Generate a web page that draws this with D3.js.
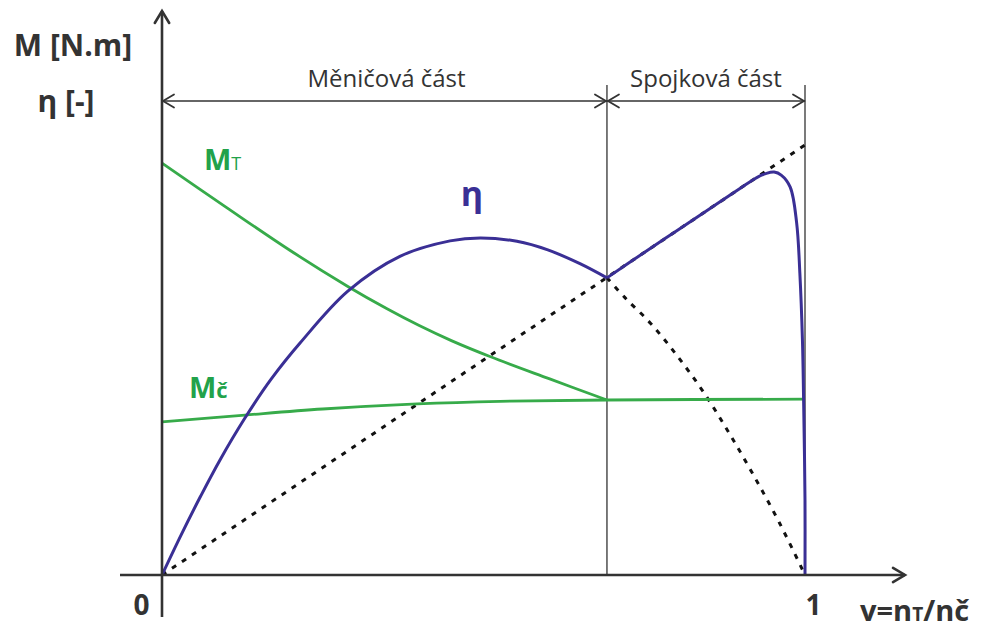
<!DOCTYPE html>
<html>
<head>
<meta charset="utf-8">
<script src="https://cdn.jsdelivr.net/npm/d3@7/dist/d3.min.js"></script>
<style>
  html, body { margin: 0; padding: 0; background: #fff; }
  svg { display: block; }
  text { font-family: "Open Sans", Lato, "DejaVu Sans", sans-serif; }
</style>
</head>
<body>
<svg id="chart" width="989" height="628"></svg>
<script>
// Relative speed v = nT/nč on x, torque / efficiency (normalised) on y
const xTicks = [0, 1];
const splitV = 0.692;           // boundary between converter and coupling range

// Efficiency η in the converter range (solid)
const etaConvSolidX = [0, 0.03, 0.06, 0.09, 0.129, 0.17, 0.215, 0.289, 0.37, 0.448, 0.495, 0.552, 0.60, 0.65, 0.692];
const etaConvSolidY = [0, 0.094, 0.183, 0.267, 0.365, 0.456, 0.540, 0.660, 0.741, 0.777, 0.784, 0.776, 0.756, 0.724, 0.691];

// Efficiency η in the coupling range (solid)
const etaCoupSolidX = [0.692, 0.75, 0.80, 0.85, 0.90, 0.925, 0.940, 0.952, 0.963, 0.977, 0.987, 0.992, 0.996, 0.998, 1.0, 1.0];
const etaCoupSolidY = [0.691, 0.75, 0.80, 0.85, 0.90, 0.924, 0.934, 0.937, 0.930, 0.902, 0.819, 0.702, 0.547, 0.391, 0.174, 0];

// Converter efficiency continued past the split point (dotted)
const etaConvX = [0.692, 0.72, 0.76, 0.80, 0.84, 0.88, 0.92, 0.96, 1.0];
const etaConvY = [0.691, 0.645, 0.585, 0.512, 0.430, 0.335, 0.232, 0.122, 0];

// Coupling efficiency η = v (dotted)
const etaCoupX = [0, 1];
const etaCoupY = [0, 1];

// Turbine torque MT
const mtX = [0, 0.1, 0.2, 0.289, 0.35, 0.4, 0.45, 0.51, 0.603, 0.692];
const mtY = [0.958, 0.855, 0.754, 0.671, 0.619, 0.580, 0.545, 0.508, 0.456, 0.407];

// Pump torque Mč
const mcX = [0, 0.129, 0.25, 0.397, 0.526, 0.692, 1.0];
const mcY = [0.356, 0.372, 0.386, 0.398, 0.404, 0.407, 0.409];

const sections = [
  { label: "Měničová část", from: 0, to: splitV },
  { label: "Spojková část", from: splitV, to: 1 }
];

const svg = d3.select("#chart");
const x = d3.scaleLinear().domain([0, 1]).range([162, 805]);
const y = d3.scaleLinear().domain([0, 1]).range([575, 145]);

const axisColor = "#333";
const green = "#37ab4a";
const greenText = "#22a24a";
const blue = "#3a2f95";

const zip = (xs, ys) => xs.map((v, i) => [v, ys[i]]);
const line = d3.line().x(d => x(d[0])).y(d => y(d[1])).curve(d3.curveCatmullRom.alpha(0.5));

// chevron arrow head
function chevron(g, px, py, dir, size, width) {
  const s = size;
  let p;
  if (dir === "up") p = [[px - s * 0.6, py + s], [px, py], [px + s * 0.6, py + s]];
  if (dir === "right") p = [[px - s, py - s * 0.6], [px, py], [px - s, py + s * 0.6]];
  if (dir === "left") p = [[px + s, py - s * 0.6], [px, py], [px + s, py + s * 0.6]];
  g.append("path").attr("d", d3.line()(p)).attr("fill", "none")
    .attr("stroke", axisColor).attr("stroke-width", width)
    .attr("stroke-linejoin", "miter").attr("stroke-linecap", "round");
}

// Section divider lines
[splitV, 1].forEach(v => {
  svg.append("line").attr("x1", x(v)).attr("x2", x(v))
    .attr("y1", 85).attr("y2", y(0))
    .attr("stroke", axisColor).attr("stroke-width", 1.3);
});

// Dimension arrows with section labels
const dimY = 101;
sections.forEach(s => {
  svg.append("line").attr("x1", x(s.from)).attr("x2", x(s.to))
    .attr("y1", dimY).attr("y2", dimY)
    .attr("stroke", axisColor).attr("stroke-width", 1.6);
  chevron(svg, x(s.from) + 1, dimY, "left", 11, 1.8);
  chevron(svg, x(s.to) - 1, dimY, "right", 11, 1.8);
  svg.append("text").attr("x", (x(s.from) + x(s.to)) / 2 + (s.from === 0 ? 2 : 0)).attr("y", 87)
    .attr("text-anchor", "middle").attr("font-size", 24).attr("fill", "#333")
    .text(s.label);
});

// Dotted reference curves
[[etaCoupX, etaCoupY], [etaConvX, etaConvY]].forEach(([xs, ys]) => {
  svg.append("path").datum(zip(xs, ys))
    .attr("d", line)
    .attr("fill", "none").attr("stroke", "#111").attr("stroke-width", 3)
    .attr("stroke-dasharray", "5,7");
});

// Torque curves
[[mtX, mtY], [mcX, mcY]].forEach(([xs, ys]) => {
  svg.append("path").datum(zip(xs, ys))
    .attr("d", line)
    .attr("fill", "none").attr("stroke", green).attr("stroke-width", 2.8)
    .attr("stroke-linejoin", "round");
});

// Efficiency curve (two ranges meeting in a corner at the split point)
[[etaConvSolidX, etaConvSolidY], [etaCoupSolidX, etaCoupSolidY]].forEach(([xs, ys]) => {
  svg.append("path").datum(zip(xs, ys))
    .attr("d", line)
    .attr("fill", "none").attr("stroke", blue).attr("stroke-width", 3)
    .attr("stroke-linejoin", "round");
});

// Axes
svg.append("line").attr("x1", x(0)).attr("x2", x(0)).attr("y1", 617).attr("y2", 11)
  .attr("stroke", axisColor).attr("stroke-width", 2.6);
chevron(svg, x(0), 11, "up", 12, 2.6);
svg.append("line").attr("x1", 120).attr("x2", 905).attr("y1", y(0)).attr("y2", y(0))
  .attr("stroke", axisColor).attr("stroke-width", 2.6);
chevron(svg, 905, y(0), "right", 12, 2.6);

// Tick labels 0 and 1
const xAxis = svg.append("g").attr("transform", `translate(0,${y(0)})`)
  .call(d3.axisBottom(x).tickValues(xTicks).tickSize(0).tickPadding(20).tickFormat(d3.format("d")));
xAxis.select(".domain").remove();
xAxis.selectAll("text")
  .attr("font-size", 28).attr("font-weight", "bold").attr("fill", "#333")
  .attr("font-family", "'Open Sans', Lato, sans-serif")
  .attr("dx", d => d === 0 ? -21 : 8);

// Axis titles
svg.append("text").attr("x", 73).attr("y", 56).attr("text-anchor", "middle")
  .attr("font-size", 30).attr("font-weight", "bold").attr("fill", "#333").text("M [N.m]");
svg.append("text").attr("x", 66).attr("y", 112).attr("text-anchor", "middle")
  .attr("font-size", 30).attr("font-weight", "bold").attr("fill", "#333").text("η [-]");

const vt = svg.append("text").attr("x", 860).attr("y", 621)
  .attr("font-size", 29).attr("font-weight", "bold").attr("fill", "#333");
vt.append("tspan").text("v=n");
vt.append("tspan").attr("font-size", 19).text("T");
vt.append("tspan").text("/nč");

// Curve labels
const mt = svg.append("text").attr("x", 204).attr("y", 170)
  .attr("font-size", 29).attr("font-weight", "bold").attr("fill", greenText);
mt.append("tspan").text("M");
mt.append("tspan").attr("font-size", 18).attr("font-weight", "normal").text("T");

const mc = svg.append("text").attr("x", 189).attr("y", 398)
  .attr("font-size", 29).attr("font-weight", "bold").attr("fill", greenText);
mc.append("tspan").text("M");
mc.append("tspan").attr("font-size", 22).text("č");

svg.append("text").attr("x", 472).attr("y", 206).attr("text-anchor", "middle")
  .attr("font-size", 34).attr("font-weight", "bold").attr("fill", blue).text("η");
</script>
</body>
</html>
